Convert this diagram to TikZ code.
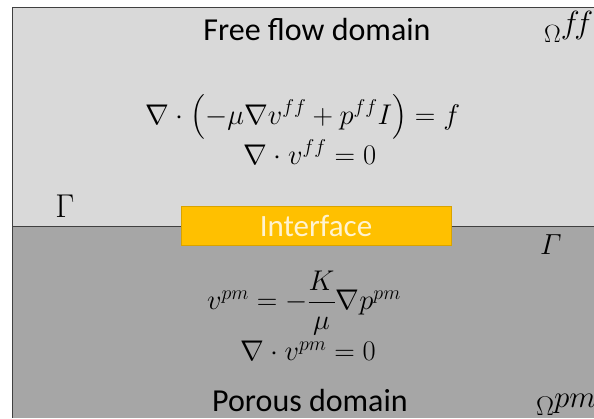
\RequirePackage{fix-cm}
\documentclass[tikz,border=0pt]{standalone}
\usepackage{fontspec}
\setmainfont{Carlito}
\usepackage{amsmath}
\definecolor{topgray}{HTML}{D9D9D9}
\definecolor{botgray}{HTML}{A6A6A6}
\definecolor{edgegray}{HTML}{404040}
\definecolor{ifacefill}{HTML}{FFC000}
\definecolor{ifaceedge}{HTML}{D9A300}
\definecolor{ifacetext}{HTML}{FFF3D0}
\newcommand{\omsup}[4]{{\fontsize{#1}{#1}\selectfont$\Omega$}\raisebox{#4}{\fontsize{#2}{#2}\selectfont$#3$}}
\begin{document}
\begin{tikzpicture}[x=1pt,y=-1pt,
  lbl/.style={inner sep=0pt,font=\fontsize{32}{36}\selectfont},
  sym/.style={inner sep=0pt,font=\fontsize{33}{38}\selectfont},
  eqn/.style={inner sep=0pt,font=\fontsize{28.5}{34}\selectfont},
  iface/.style={draw=ifaceedge,fill=ifacefill,line width=0.8pt,minimum width=270pt,minimum height=39pt,inner sep=0pt,text=ifacetext,font=\fontsize{31}{34}\selectfont}]
\useasboundingbox (0,0) rectangle (594,418);
\fill[white] (0,0) rectangle (594,418);
\fill[topgray] (12,7) rectangle (594,226);
\fill[botgray] (12,226) rectangle (594,418);
\draw[edgegray,line width=1pt] (594,7) -- (12,7) -- (12,418);
\draw[edgegray,line width=1pt] (12,226) -- (594,226);
\node[lbl] (ff) at (317,30) {Free flow domain};
\node[inner sep=0pt,anchor=base west] (omff) at (544,42) {\omsup{25}{32}{f\!f}{9pt}};
\node[eqn] (e1) at (303,117) {$\nabla\cdot\bigl(-\mu\nabla v^{ff}+p^{ff}I\bigr)=f$};
\node[eqn] (e2) at (310,152) {$\nabla\cdot v^{ff}=0$};
\node[sym] (g1) at (65,206) {$\Gamma$};
\node[iface] (if) at (316,226) {Interface};
\node[inner sep=0pt,font=\fontsize{29}{34}\selectfont] (g2) at (551,245) {$\varGamma$};
\node[eqn] (e3) at (304,303) {$v^{pm}=-\dfrac{K}{\mu}\nabla p^{pm}$};
\node[eqn] (e4) at (308,351) {$\nabla\cdot v^{pm}=0$};
\node[lbl] (pd) at (310,400) {Porous domain};
\node[inner sep=0pt,anchor=base west] (ompm) at (536,415) {\omsup{27}{31}{pm}{8pt}};
\end{tikzpicture}
\end{document}
